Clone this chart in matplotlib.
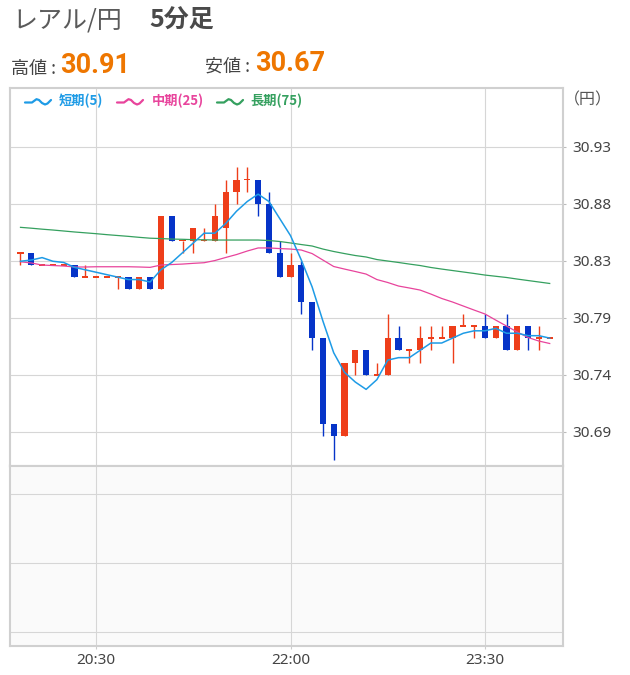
import matplotlib
matplotlib.use("Agg")
import matplotlib.pyplot as plt
from matplotlib import font_manager
import numpy as np

# ---------------- data ----------------
times = ["19:55", "20:00", "20:05", "20:10", "20:15", "20:20", "20:25", "20:30", "20:35", "20:40",
         "20:45", "20:50", "20:55", "21:00", "21:05", "21:10", "21:15", "21:20", "21:25", "21:30",
         "21:35", "21:40", "21:45", "21:50", "21:55", "22:00", "22:05", "22:10", "22:15", "22:20",
         "22:25", "22:30", "22:35", "22:40", "22:45", "22:50", "22:55", "23:00", "23:05", "23:10",
         "23:15", "23:20", "23:25", "23:30", "23:35", "23:40", "23:45", "23:50", "23:55", "24:00"]

opens = [30.84, 30.84, 30.83, 30.83, 30.83, 30.83, 30.82, 30.82, 30.82, 30.82,
         30.82, 30.81, 30.82, 30.81, 30.87, 30.85, 30.85, 30.85, 30.85, 30.86,
         30.89, 30.90, 30.90, 30.88, 30.84, 30.82, 30.83, 30.80, 30.77, 30.70,
         30.69, 30.75, 30.76, 30.74, 30.74, 30.77, 30.76, 30.76, 30.77, 30.77,
         30.77, 30.78, 30.78, 30.78, 30.77, 30.78, 30.76, 30.78, 30.77, 30.77]
highs = [30.84, 30.84, 30.83, 30.83, 30.83, 30.83, 30.83, 30.82, 30.82, 30.82,
         30.82, 30.82, 30.82, 30.87, 30.87, 30.85, 30.86, 30.86, 30.88, 30.90,
         30.91, 30.91, 30.90, 30.89, 30.85, 30.84, 30.833, 30.80, 30.77, 30.70,
         30.75, 30.76, 30.76, 30.75, 30.79, 30.78, 30.76, 30.78, 30.78, 30.78,
         30.78, 30.79, 30.78, 30.79, 30.78, 30.79, 30.78, 30.78, 30.78, 30.77]
lows = [30.83, 30.83, 30.83, 30.83, 30.83, 30.82, 30.82, 30.82, 30.82, 30.81,
        30.81, 30.81, 30.81, 30.81, 30.85, 30.84, 30.84, 30.85, 30.85, 30.84,
        30.88, 30.89, 30.87, 30.84, 30.82, 30.82, 30.79, 30.76, 30.69, 30.67,
        30.69, 30.74, 30.74, 30.74, 30.74, 30.76, 30.75, 30.75, 30.76, 30.77,
        30.75, 30.78, 30.77, 30.77, 30.77, 30.76, 30.76, 30.76, 30.76, 30.77]
closes = [30.84, 30.83, 30.83, 30.83, 30.83, 30.82, 30.82, 30.82, 30.82, 30.82,
          30.81, 30.82, 30.81, 30.87, 30.85, 30.85, 30.86, 30.85, 30.87, 30.89,
          30.90, 30.90, 30.88, 30.84, 30.82, 30.83, 30.80, 30.77, 30.70, 30.69,
          30.75, 30.76, 30.74, 30.74, 30.77, 30.76, 30.76, 30.77, 30.77, 30.77,
          30.78, 30.78, 30.78, 30.77, 30.78, 30.76, 30.78, 30.77, 30.77, 30.77]

ma5 = [30.833, 30.834, 30.836, 30.833, 30.832, 30.828, 30.826, 30.824, 30.822, 30.820,
       30.818, 30.818, 30.816, 30.826, 30.832, 30.840, 30.848, 30.856, 30.856, 30.864,
       30.874, 30.882, 30.888, 30.882, 30.868, 30.854, 30.834, 30.812, 30.784, 30.758,
       30.742, 30.734, 30.728, 30.736, 30.752, 30.754, 30.754, 30.760, 30.766, 30.766,
       30.770, 30.774, 30.776, 30.776, 30.778, 30.774, 30.774, 30.772, 30.772, 30.770]
ma25 = [30.8326, 30.8316, 30.8299, 30.8295, 30.8291, 30.8283, 30.8283, 30.8285, 30.8285, 30.8285,
        30.8285, 30.8283, 30.8280, 30.8299, 30.8303, 30.8307, 30.8313, 30.8318, 30.8336, 30.8361,
        30.8385, 30.8414, 30.8439, 30.8439, 30.8434, 30.8430, 30.8422, 30.8393, 30.8340, 30.8287,
        30.8266, 30.8246, 30.8225, 30.8180, 30.8156, 30.8127, 30.8111, 30.8094, 30.8061, 30.8025,
        30.7996, 30.7963, 30.7930, 30.7898, 30.7848, 30.7799, 30.7750, 30.7705, 30.7676, 30.7656]
ma75 = [30.8608, 30.8601, 30.8593, 30.8586, 30.8578, 30.8570, 30.8563, 30.8556, 30.8548, 30.8541,
        30.8534, 30.8526, 30.8519, 30.8516, 30.8512, 30.8510, 30.8507, 30.8506, 30.8504, 30.8504,
        30.8504, 30.8504, 30.8504, 30.8500, 30.8492, 30.8480, 30.8467, 30.8455, 30.8430, 30.8410,
        30.8393, 30.8377, 30.8365, 30.8344, 30.8332, 30.8320, 30.8307, 30.8295, 30.8279, 30.8266,
        30.8254, 30.8242, 30.8230, 30.8217, 30.8207, 30.8197, 30.8184, 30.8172, 30.8160, 30.8148]

ytick_values = [30.9269, 30.8802, 30.8335, 30.7868, 30.7400, 30.6933]
ytick_labels = ["30.93", "30.88", "30.83", "30.79", "30.74", "30.69"]
xtick_labels = ["20:30", "22:00", "23:30"]

high_value = "30.91"
low_value = "30.67"
legend_names = ["短期(5)", "中期(25)", "長期(75)"]

# ---------------- style ----------------
RED = "#EE3E1A"
BLUE = "#0634C8"
C_MA5 = "#1E9BE6"
C_MA25 = "#E8449C"
C_MA75 = "#35A05F"
GRID = "#d6d6d6"
BORDER = "#d0d0d0"
JP = ["Noto Sans CJK JP", "DejaVu Sans"]
LAT = ["Noto Sans", "Noto Sans CJK JP"]


def bold_family():
    for fam in ["Noto Sans", "Roboto", "Open Sans", "Lato", "Liberation Sans", "DejaVu Sans"]:
        try:
            path = font_manager.findfont(font_manager.FontProperties(family=fam, weight="bold"),
                                         fallback_to_default=False)
        except Exception:
            continue
        name = path.lower()
        if "bold" in name and fam.replace(" ", "").lower() in name.replace("-", "").replace("_", ""):
            return fam
    return "DejaVu Sans"


BOLD_NUM = bold_family()

W, H = 630, 675


def fx(x):
    return x / W


def fy(y):
    return 1 - y / H


fig = plt.figure(figsize=(W / 100, H / 100), dpi=100)
fig.patch.set_facecolor("white")

ax = fig.add_axes([fx(10), fy(466), 553 / W, 378 / H])
ax2 = fig.add_axes([fx(10), fy(646), 553 / W, 180 / H])

n = len(closes)
x = np.arange(n)
o = np.array(opens)
c = np.array(closes)
hi = np.array(highs)
lo = np.array(lows)
up = c >= o
cols = np.where(up, RED, BLUE)

# wicks
ax.vlines(x, lo, hi, colors=cols, lw=1.0, zorder=3)
# bodies
minh = 0.0014
bh = np.abs(c - o)
bottom = np.minimum(o, c)
isdoji = bh < minh
bottom = np.where(isdoji, o - minh / 2, bottom)
bh = np.where(isdoji, minh, bh)
ax.bar(x, bh, bottom=bottom, width=0.58, color=cols, linewidth=0, zorder=4)

# moving averages
ax.plot(x, ma75, color=C_MA75, lw=0.9, zorder=5)
ax.plot(x, ma25, color=C_MA25, lw=0.9, zorder=5)
ax.plot(x, ma5, color=C_MA5, lw=1.1, zorder=6)

xt = [times.index(t) for t in xtick_labels]
xlim = (-0.972, 50.23)
ax.set_xlim(*xlim)
ax.set_ylim(30.6652, 30.9750)
ax.set_xticks(xt)
ax.set_xticklabels([])
ax.tick_params(axis="x", length=0)
ax.yaxis.tick_right()
ax.set_yticks(ytick_values)
ax.set_yticklabels(ytick_labels, family=LAT)
ax.tick_params(axis="y", length=2.2, color="#bbbbbb", labelsize=11, labelcolor="#444444", pad=4.5)
ax.grid(True, color=GRID, lw=0.8, zorder=0)
ax.set_axisbelow(True)
for s in ax.spines.values():
    s.set_color(BORDER)
    s.set_linewidth(1.5)

# lower panel
ax2.set_facecolor("#fafafa")
ax2.set_xlim(*xlim)
ax2.set_ylim(-0.203, 2.406)
ax2.set_yticks([0, 1, 2])
ax2.set_yticklabels([])
ax2.tick_params(axis="y", length=0)
ax2.set_xticks(xt)
ax2.set_xticklabels(xtick_labels, family=LAT)
ax2.tick_params(axis="x", length=2.2, color="#cccccc", labelsize=11, labelcolor="#444444", pad=3)
ax2.grid(True, color=GRID, lw=0.8)
for s in ax2.spines.values():
    s.set_color(BORDER)
    s.set_linewidth(1.5)

# header texts
fig.text(fx(12), fy(28), "レアル/円", family=JP, fontsize=18, color="#5a5a5a", va="baseline")
fig.text(fx(149), fy(28), "5分足", family=JP, fontsize=18, color="#4a4a4a", fontweight="bold", va="baseline")

fig.text(fx(11), fy(74), "高値 :", family=JP, fontsize=13, color="#444444", va="baseline")
fig.text(fx(60), fy(73), high_value, family=[BOLD_NUM, "DejaVu Sans"], fontsize=19.5, color="#EE7600",
         fontweight="bold", va="baseline")
fig.text(fx(205), fy(72), "安値 :", family=JP, fontsize=13, color="#444444", va="baseline")
fig.text(fx(255), fy(71), low_value, family=[BOLD_NUM, "DejaVu Sans"], fontsize=19.5, color="#EE7600",
         fontweight="bold", va="baseline")

fig.text(fx(588), fy(100), "（円）", family=JP, fontsize=11.5, color="#555555", va="center", ha="center")

# legend
icon_shape = [(0, 0), (7, 0), (9, -1.5), (11.5, -3.3), (14, -2.5), (17, 0.5), (20, 2), (22.5, 1), (26, -2.5)]
legend_items = [(25, 59, C_MA5), (117, 152, C_MA25), (217, 250, C_MA75)]
for (ix, tx, col), name in zip(legend_items, legend_names):
    px = [fx(ix + dx) for dx, dy in icon_shape]
    py = [fy(102.5 + dy) for dx, dy in icon_shape]
    fig.add_artist(plt.Line2D(px, py, color=col, lw=1.6, solid_capstyle="round",
                              solid_joinstyle="round", transform=fig.transFigure))
    fig.text(fx(tx), fy(101), name, family=JP, fontsize=9.5, color=col, fontweight="bold", va="center")

fig.savefig("out.png", dpi=100, facecolor="white")
